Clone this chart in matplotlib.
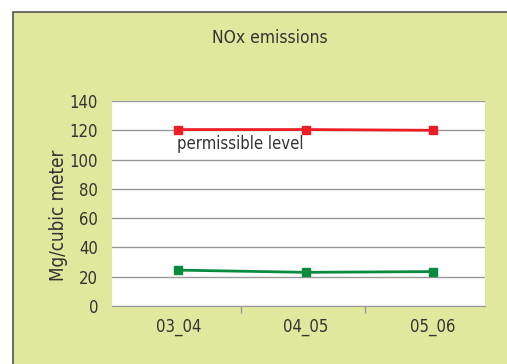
import matplotlib
matplotlib.use("Agg")
import matplotlib.pyplot as plt
from matplotlib.patches import Rectangle

categories = ["03_04", "04_05", "05_06"]
permissible = [120.5, 120.5, 120.0]
emissions = [24.5, 23.0, 23.5]
yticks = [0, 20, 40, 60, 80, 100, 120, 140]

plt.rcParams['font.family'] = ['DejaVu Sans']
plt.rcParams['font.stretch'] = 'condensed'

fig = plt.figure(figsize=(5.07, 3.64), dpi=100)
fig.patch.set_facecolor("white")
bg = Rectangle((13/507, -0.05), 1.1, 1 - 12/364 + 0.05, transform=fig.transFigure,
               facecolor="#dfe89c", edgecolor="#555555", linewidth=1.2, zorder=-10)
fig.patches.append(bg)

ax = fig.add_axes([112/507, 1 - 306/364, 373/507, 205/364], zorder=5)
ax.set_facecolor("white")
x = list(range(len(categories)))
ax.plot(x, permissible, color="#ee1c25", lw=2.0, marker="s", ms=5.5, zorder=3)
ax.plot(x, emissions, color="#0a8a3e", lw=2.0, marker="s", ms=5.5, zorder=3)
ax.set_ylim(0, 140)
ax.set_xlim(-0.52, 2.41)
ax.set_yticks(yticks)
ax.set_yticklabels([str(v) for v in yticks], fontsize=12, color="#333333")
ax.set_xticks(x)
ax.set_xticklabels(categories, fontsize=12, color="#333333")
ax.tick_params(axis="x", length=0, pad=9)
ax.tick_params(axis="y", length=0, pad=10)
ax.set_xticks([0.49, 1.47], minor=True)
ax.tick_params(axis="x", which="minor", length=5, color="#999999", width=1)
ax.yaxis.grid(True, color="#999999", lw=1)
ax.set_axisbelow(True)
for s in ["top", "right", "left"]:
    ax.spines[s].set_visible(False)
ax.spines["bottom"].set_color("#999999")
ax.set_ylabel("Mg/cubic meter", fontsize=13.5, color="#333333")
ax.yaxis.set_label_coords(-0.118, 0.44)
ax.text(-0.01, 110.5, "permissible level", fontsize=12, color="#333333", va="center", ha="left")
fig.text(270/507, 1 - 38/364, "NOx emissions", fontsize=12.5, color="#333333", ha="center", va="center")

fig.savefig("out.png", dpi=100, facecolor=fig.get_facecolor())
